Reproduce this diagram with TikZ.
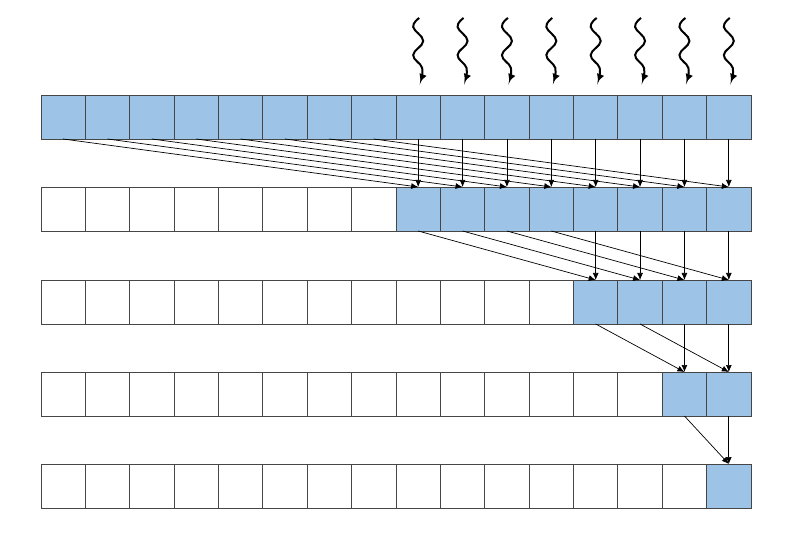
\documentclass[tikz,border=0pt]{standalone}
\usetikzlibrary{arrows.meta}
\definecolor{cellblue}{RGB}{157,195,230}
\definecolor{cellline}{RGB}{70,70,70}
\begin{document}
\begin{tikzpicture}[x=1pt,y=-1pt,
  cell/.style={draw=cellline,line width=0.9pt,minimum width=44.375pt,minimum height=44pt,inner sep=0pt,outer sep=0pt,fill=white},
  full/.style={cell,fill=cellblue},
  arr/.style={-{Latex[length=7pt,width=6pt]},line width=0.7pt,black},
  wave/.style={-{Latex[length=8pt,width=8pt]},line width=2pt,black}]
\useasboundingbox (0,0) rectangle (795,537);
% rows: number of blue cells from the right
\foreach \r/\y/\n in {1/117/0,2/209/8,3/302/12,4/394/14,5/486/15}{
  \foreach \c in {0,...,15}{
    \pgfmathsetmacro{\xx}{41+(\c+0.5)*44.375}
    \ifnum\c<\n
      \node[cell] (r\r c\c) at (\xx,\y) {};
    \else
      \node[full] (r\r c\c) at (\xx,\y) {};
    \fi
  }
}
% incoming wavy arrows
\foreach \c in {8,...,15}{
  \pgfmathsetmacro{\xx}{41+(\c+0.5)*44.375}
  \coordinate (w\c) at (\xx,17);
  \begin{scope}[shift={(w\c)}]
    \draw[wave] plot[smooth,tension=0.7] coordinates {(1,1) (-5,10) (5,24) (-5,38) (4,51) (2,65)};
  \end{scope}
}
% row 1 -> row 2
\foreach \i in {0,...,7}{
  \pgfmathtruncatemacro{\j}{\i+8}
  \draw[arr] (r1c\i.south) -- (r2c\j.north);
  \draw[arr] (r1c\j.south) -- (r2c\j.north);
}
% row 2 -> row 3
\foreach \i in {8,...,11}{
  \pgfmathtruncatemacro{\j}{\i+4}
  \draw[arr] (r2c\i.south) -- (r3c\j.north);
  \draw[arr] (r2c\j.south) -- (r3c\j.north);
}
% row 3 -> row 4
\foreach \i in {12,13}{
  \pgfmathtruncatemacro{\j}{\i+2}
  \draw[arr] (r3c\i.south) -- (r4c\j.north);
  \draw[arr] (r3c\j.south) -- (r4c\j.north);
}
% row 4 -> row 5
\draw[arr] (r4c14.south) -- (r5c15.north);
\draw[arr] (r4c15.south) -- (r5c15.north);
\end{tikzpicture}
\end{document}
